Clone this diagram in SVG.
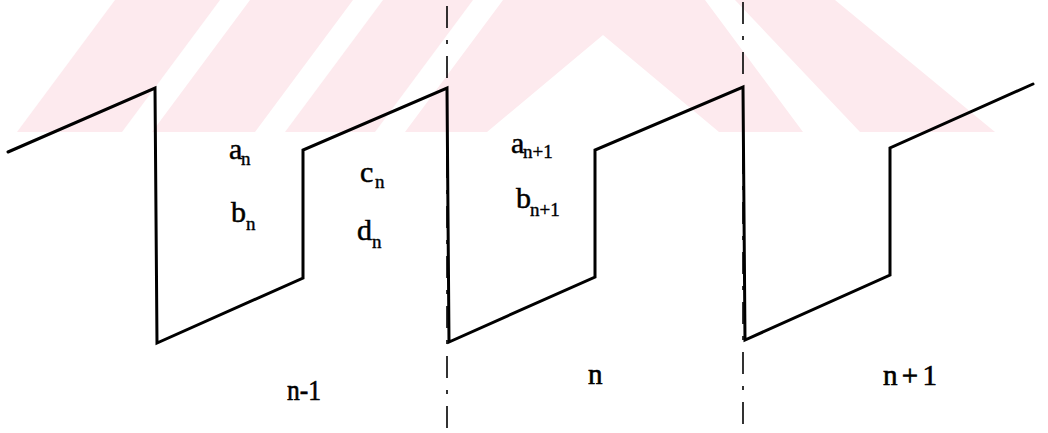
<svg xmlns="http://www.w3.org/2000/svg" width="1048" height="433" viewBox="0 0 1048 433">
  <style>
    .wm { fill: #fdeaee; stroke: none; }
    .wave { fill: none; stroke: #000; stroke-width: 3; stroke-linejoin: miter; stroke-linecap: round; }
    .guide { fill: none; stroke: #000; stroke-width: 1.6; stroke-dasharray: 22 12 4 12; }
    .lbl { font-family: "Liberation Serif", "Times New Roman", serif; fill: #000; stroke: #000; stroke-width: 0.5; font-size: 30px; }
    .sub { font-family: "Liberation Serif", "Times New Roman", serif; fill: #000; stroke: #000; stroke-width: 0.4; font-size: 19px; }
    .idx { font-family: "Liberation Serif", "Times New Roman", serif; fill: #000; stroke: #000; stroke-width: 0.6; font-size: 29px; }
  </style>
  <rect width="1048" height="433" fill="#ffffff"/>
  <g id="watermark">
    <polygon class="wm" points="115,0 220,0 122,132 17,132"/>
    <polygon class="wm" points="250,0 353,0 255,132 152,132"/>
    <polygon class="wm" points="383,0 473,0 375,132 285,132"/>
    <polygon class="wm" points="503,0 705,0 803,132 719,132 603,35 487,132 405,132"/>
    <polygon class="wm" points="735,0 835,0 995,132 860,132"/>
  </g>
  <g id="connectors">
    <path id="guide-1" class="guide" d="M447,6 L447,433"/>
    <path id="guide-2" class="guide" d="M743,2 L743,433"/>
    <path id="waveform" class="wave" d="M8,152 L155,88 L157,343 L303,278 L303,150 L447,88 L449,342 L595,277 L595,150 L743,87 L745,340 L890,275 L890,148 L1033,84"/>
  </g>
  <g id="label-an"><text class="lbl" x="229" y="159">a</text><text class="sub" x="241" y="165">n</text></g>
  <g id="label-bn"><text class="lbl" x="231" y="222">b</text><text class="sub" x="246" y="230">n</text></g>
  <g id="label-cn"><text class="lbl" x="360" y="182">c</text><text class="sub" x="375" y="188">n</text></g>
  <g id="label-dn"><text class="lbl" x="357" y="240">d</text><text class="sub" x="372" y="248">n</text></g>
  <g id="label-an1"><text class="lbl" x="511" y="153">a</text><text class="sub" x="523" y="158" font-size="17">n+1</text></g>
  <g id="label-bn1"><text class="lbl" x="516" y="208">b</text><text class="sub" x="530" y="216" font-size="17">n+1</text></g>
  <g id="label-n-1"><text class="idx" x="287" y="400" textLength="34" lengthAdjust="spacingAndGlyphs">n-1</text></g>
  <g id="label-n"><text class="idx" x="588" y="384">n</text></g>
  <g id="label-n+1"><text class="idx" x="883" y="385" textLength="54" lengthAdjust="spacing">n+1</text></g>
</svg>
